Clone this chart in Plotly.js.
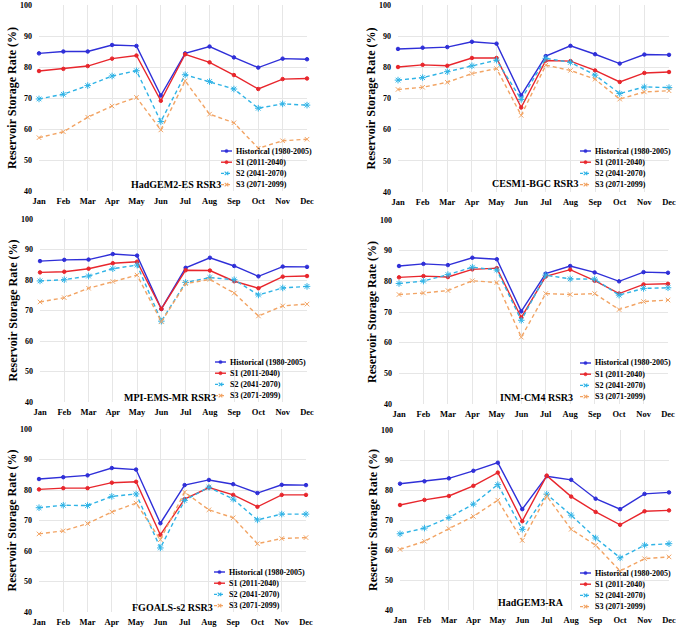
<!DOCTYPE html>
<html>
<head>
<meta charset="utf-8">
<script src="https://cdn.plot.ly/plotly-3.0.1.min.js"></script>
<style>
  html, body { margin: 0; padding: 0; background: #ffffff; }
  #chart { width: 676px; height: 630px; }
</style>
</head>
<body>
<div id="chart"></div>
<script>
// Monthly reservoir storage rate (%) for six climate models
const months = ['Jan', 'Feb', 'Mar', 'Apr', 'May', 'Jun', 'Jul', 'Aug', 'Sep', 'Oct', 'Nov', 'Dec'];
const seriesNames = ['Historical (1980-2005)', 'S1 (2011-2040)', 'S2 (2041-2070)', 'S3 (2071-2099)'];
const modelNames = ['HadGEM2-ES RSR3', 'CESM1-BGC RSR3', 'MPI-EMS-MR RSR3', 'INM-CM4 RSR3', 'FGOALS-s2 RSR3', 'HadGEM3-RA'];
const yTicks = [40, 50, 60, 70, 80, 90, 100];

// HadGEM2-ES RSR3
const hadgem2esHist = [84.4, 85.0, 85.0, 87.1, 86.8, 70.8, 84.4, 86.6, 83.1, 79.8, 82.7, 82.5];
const hadgem2esS1   = [78.7, 79.4, 80.3, 82.7, 83.7, 69.1, 84.1, 81.5, 77.4, 72.9, 76.1, 76.3];
const hadgem2esS2   = [69.7, 71.2, 74.0, 77.1, 78.8, 62.4, 77.5, 75.3, 72.9, 66.7, 68.1, 67.7];
const hadgem2esS3   = [57.2, 59.1, 63.8, 67.4, 70.2, 59.7, 75.5, 64.8, 62.0, 53.8, 56.2, 56.7];

// CESM1-BGC RSR3
const cesm1Hist = [85.9, 86.3, 86.5, 88.2, 87.6, 71.0, 83.6, 86.9, 84.2, 81.2, 84.1, 84.0];
const cesm1S1   = [80.1, 80.8, 80.5, 83.0, 83.0, 67.1, 82.2, 82.0, 79.0, 75.3, 78.2, 78.5];
const cesm1S2   = [75.9, 76.7, 78.6, 80.5, 82.3, 69.7, 82.9, 81.6, 77.5, 71.6, 73.7, 73.5];
const cesm1S3   = [72.9, 73.6, 75.2, 78.0, 79.6, 64.6, 80.7, 79.0, 76.2, 69.8, 72.1, 72.5];

// MPI-EMS-MR RSR3
const mpiHist = [86.2, 86.6, 86.7, 88.5, 88.0, 70.5, 84.0, 87.3, 84.6, 81.2, 84.4, 84.3];
const mpiS1   = [82.5, 82.7, 83.7, 85.5, 86.0, 70.5, 83.2, 83.1, 79.6, 77.3, 81.1, 81.3];
const mpiS2   = [79.7, 80.1, 81.3, 83.7, 84.9, 66.5, 79.2, 80.8, 80.1, 75.1, 77.4, 77.9];
const mpiS3   = [72.8, 74.2, 77.3, 79.5, 81.6, 66.3, 78.8, 80.2, 75.7, 68.2, 71.5, 72.1];

// INM-CM4 RSR3
const inmHist = [85.0, 85.7, 85.3, 87.7, 87.2, 70.2, 82.5, 85.0, 82.9, 80.0, 83.0, 82.8];
const inmS1   = [81.3, 81.7, 81.4, 83.9, 84.3, 68.2, 81.6, 83.8, 80.2, 76.0, 79.0, 79.2];
const inmS2   = [79.3, 80.1, 82.2, 84.6, 83.7, 67.3, 82.0, 80.8, 80.7, 75.5, 77.7, 77.9];
const inmS3   = [75.7, 76.2, 77.0, 80.2, 79.6, 61.8, 76.0, 75.7, 76.0, 70.8, 73.4, 73.9];

// FGOALS-s2 RSR3
const fgoalsHist = [83.6, 84.2, 84.8, 87.2, 86.7, 69.1, 81.6, 83.3, 81.9, 79.0, 81.7, 81.6];
const fgoalsS1   = [80.2, 80.6, 80.6, 82.4, 82.7, 65.3, 77.0, 80.8, 78.4, 74.5, 78.4, 78.4];
const fgoalsS2   = [74.2, 75.0, 74.9, 77.9, 78.7, 61.0, 76.6, 80.9, 77.0, 70.2, 72.1, 72.1];
const fgoalsS3   = [65.6, 66.6, 69.0, 72.8, 75.7, 63.7, 79.3, 73.5, 70.9, 62.4, 64.1, 64.4];

// HadGEM3-RA
const hadgem3Hist = [82.1, 82.9, 83.9, 86.4, 89.1, 73.6, 84.6, 83.4, 77.1, 73.6, 78.7, 79.2];
const hadgem3S1   = [75.0, 76.7, 78.0, 81.4, 85.8, 69.6, 84.8, 77.8, 72.7, 68.4, 72.9, 73.2];
const hadgem3S2   = [65.4, 67.3, 70.8, 75.3, 81.8, 66.9, 78.6, 71.6, 64.0, 57.4, 61.6, 62.1];
const hadgem3S3   = [60.2, 62.9, 67.1, 71.2, 76.6, 63.2, 78.0, 66.9, 61.6, 53.0, 57.1, 57.7];

const modelSeries = [
  [hadgem2esHist, hadgem2esS1, hadgem2esS2, hadgem2esS3],
  [cesm1Hist, cesm1S1, cesm1S2, cesm1S3],
  [mpiHist, mpiS1, mpiS2, mpiS3],
  [inmHist, inmS1, inmS2, inmS3],
  [fgoalsHist, fgoalsS1, fgoalsS2, fgoalsS3],
  [hadgem3Hist, hadgem3S1, hadgem3S2, hadgem3S3]
];

// ---- styling ----
const W = 676, H = 630;
const FONT = 'Liberation Serif, Times New Roman, serif';
const GRID = '#e6e6e6';
const styles = [
  { color: '#2f2fd8', dash: 'solid',   symbol: 'circle',        size: 3.5, glyph: 'dot' },
  { color: '#e8262c', dash: 'solid',   symbol: 'circle',        size: 3.5, glyph: 'dot' },
  { color: '#2fb3e6', dash: '4px,3px', symbol: 'asterisk-open', size: 5.5, glyph: 'cross' },
  { color: '#f2a464', dash: '4px,3px', symbol: 'x-thin-open',   size: 4.5, glyph: 'cross' }
];

// Plot areas in pixels: left, right, top, bottom; legend and model-name anchors
const panels = [
  { l: 39,  r: 307, t: 5,   b: 191, legX: 234, legY: 151, labX: 176, labY: 184 },
  { l: 398, r: 669, t: 5,   b: 192, legX: 593, legY: 151, labX: 535, labY: 183 },
  { l: 40,  r: 307, t: 219, b: 402, legX: 228, legY: 362, labX: 170, labY: 397 },
  { l: 399, r: 668, t: 220, b: 404, legX: 593, legY: 363, labX: 536, labY: 397 },
  { l: 39,  r: 306, t: 429, b: 612, legX: 227, legY: 572, labX: 172, labY: 607 },
  { l: 400, r: 669, t: 430, b: 610, legX: 593, legY: 573, labX: 531, labY: 602 }
];
const ROW = 11.2;
const px = v => v / W;
const py = v => 1 - v / H;

const traces = [];
const layout = {
  width: W, height: H,
  margin: { l: 0, r: 0, t: 0, b: 0 },
  paper_bgcolor: '#ffffff',
  plot_bgcolor: '#ffffff',
  showlegend: false,
  font: { family: FONT, color: '#000000' },
  annotations: [],
  shapes: []
};

panels.forEach((p, i) => {
  const n = i === 0 ? '' : String(i + 1);
  const xa = 'x' + n, ya = 'y' + n;

  layout['xaxis' + n] = {
    domain: [px(p.l), px(p.r)],
    anchor: ya,
    type: 'category',
    categoryorder: 'array',
    categoryarray: months,
    range: [0, months.length - 1],
    showgrid: true, gridcolor: GRID, gridwidth: 1,
    zeroline: false, showline: false, ticks: '',
    tickfont: { family: FONT, size: 8.5, weight: 'bold', color: '#000' },
    ticklabelstandoff: 3,
    fixedrange: true
  };
  layout['yaxis' + n] = {
    domain: [py(p.b), py(p.t)],
    anchor: xa,
    range: [yTicks[0], yTicks[yTicks.length - 1]],
    tickvals: yTicks,
    showgrid: true, gridcolor: GRID, gridwidth: 1,
    zeroline: false, showline: false, ticks: '',
    tickfont: { family: FONT, size: 8, weight: 'bold', color: '#000' },
    ticklabelstandoff: 6,
    title: {
      text: 'Reservoir Storage Rate (%)',
      font: { family: FONT, size: 12, weight: 'bold', color: '#000' },
      standoff: 0
    },
    fixedrange: true
  };

  modelSeries[i].forEach((vals, k) => {
    const s = styles[k];
    traces.push({
      type: 'scatter', mode: 'lines+markers',
      name: seriesNames[k],
      x: months, y: vals,
      xaxis: xa, yaxis: ya,
      cliponaxis: false,
      line: { color: s.color, width: 1.4, dash: s.dash },
      marker: { symbol: s.symbol, size: s.size, color: s.color, line: { color: s.color, width: 1 } },
      hoverinfo: 'x+y+name'
    });
  });

  // Legend block: short line with marker, then series name
  seriesNames.forEach((name, k) => {
    const s = styles[k];
    const yy = p.legY + k * ROW;
    const x0 = p.legX - 13, x1 = p.legX - 2, xm = (x0 + x1) / 2;
    layout.shapes.push({
      type: 'line', xref: 'paper', yref: 'paper',
      x0: px(x0), x1: px(x1), y0: py(yy), y1: py(yy),
      line: { color: s.color, width: 1.4, dash: k >= 2 ? 'dot' : 'solid' }
    });
    if (s.glyph === 'dot') {
      layout.shapes.push({
        type: 'circle', xref: 'paper', yref: 'paper',
        x0: px(xm - 1.6), x1: px(xm + 1.6), y0: py(yy - 1.6), y1: py(yy + 1.6),
        fillcolor: s.color, line: { color: s.color, width: 0.5 }
      });
    } else {
      const d = 1.8;
      layout.shapes.push({
        type: 'path', xref: 'paper', yref: 'paper',
        path: 'M' + px(xm - d) + ',' + py(yy - d) + 'L' + px(xm + d) + ',' + py(yy + d) +
              'M' + px(xm - d) + ',' + py(yy + d) + 'L' + px(xm + d) + ',' + py(yy - d),
        line: { color: s.color, width: 1.1 }
      });
    }
    layout.annotations.push({
      xref: 'paper', yref: 'paper', x: px(p.legX), y: py(yy),
      xanchor: 'left', yanchor: 'middle', showarrow: false,
      text: name,
      font: { family: FONT, size: 8, weight: 'bold', color: '#000' }
    });
  });

  // Model name inside the plot area
  layout.annotations.push({
    xref: 'paper', yref: 'paper', x: px(p.labX), y: py(p.labY),
    xanchor: 'center', yanchor: 'middle', showarrow: false,
    text: modelNames[i],
    font: { family: FONT, size: 10, weight: 'bold', color: '#000' }
  });
});

Plotly.newPlot('chart', traces, layout, { displayModeBar: false, staticPlot: true });
</script>
</body>
</html>
